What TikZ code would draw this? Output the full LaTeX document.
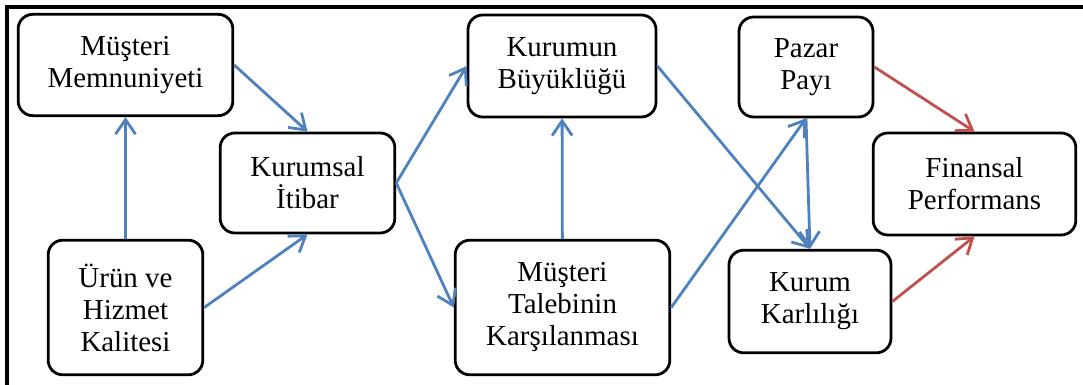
\documentclass[tikz,border=0pt]{standalone}
\usepackage{fontspec}
\setmainfont{Liberation Serif}
\usetikzlibrary{arrows.meta}
\definecolor{linkblue}{HTML}{4F81BD}
\definecolor{linkred}{HTML}{C0504D}
\tikzset{
  box/.style={draw,line width=2.1pt,rounded corners=11pt,align=center,
    inner sep=0pt,font=\fontsize{21.7}{24}\selectfont},
}
\begin{document}
\begin{tikzpicture}[
    x=0.75pt,y=0.75pt,
    link/.style={line width=2.1pt,linkblue,->,>={Straight Barb[length=11pt,width=15pt]}},
    redlink/.style={link,linkred}
    ]
    \useasboundingbox (0,0) rectangle (1083,385);
    \draw[line width=2.6pt] (7,0) -- (7,378) -- (1083,378);
    \node[box,minimum width=161pt,minimum height=76pt] (memn) at (125.5,320) {Müşteri\\Memnuniyeti};
    \node[box,minimum width=131pt,minimum height=75pt] (itibar) at (307.5,202) {Kurumsal\\İtibar};
    \node[box,minimum width=116pt,minimum height=101pt] (urun) at (125.5,77.5) {Ürün ve\\Hizmet\\Kalitesi};
    \node[box,minimum width=141pt,minimum height=76.5pt] (buyuk) at (562,319) {Kurumun\\Büyüklüğü};
    \node[box,minimum width=161pt,minimum height=101pt] (talep) at (562.5,77.5) {Müşteri\\Talebinin\\Karşılanması};
    \node[box,minimum width=100.5pt,minimum height=75pt] (pazar) at (806,318) {Pazar\\Payı};
    \node[box,minimum width=121.5pt,minimum height=77pt] (karli) at (810,83.5) {Kurum\\Karlılığı};
    \node[box,minimum width=152pt,minimum height=76.5pt] (finans) at (974.5,201) {Finansal\\Performans};
    \draw[link] (urun) -- (memn);
    \draw[link] (memn.east) -- (itibar.north);
    \draw[link] (urun.east) -- (itibar.south);
    \draw[link] (itibar.east) -- (buyuk.west);
    \draw[link] (itibar.east) -- (talep.west);
    \draw[link] (talep) -- (buyuk);
    \draw[link] (buyuk.east) -- (karli.north);
    \draw[link] (talep.east) -- (pazar.south);
    \draw[link] (pazar.south) -- (karli.north);
    \draw[redlink] (pazar.east) -- (finans.north);
    \draw[redlink] (karli.east) -- (finans.south);
  \end{tikzpicture}
\end{document}
